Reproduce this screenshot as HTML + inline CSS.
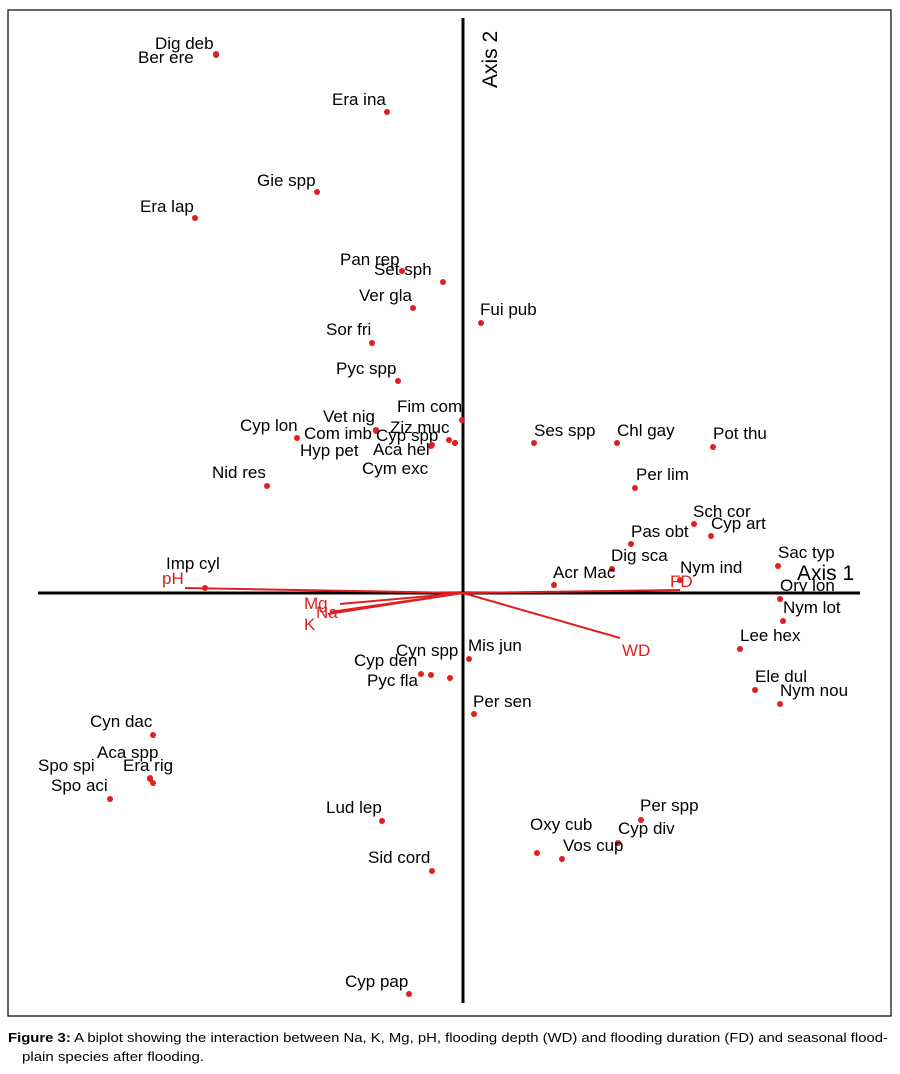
<!DOCTYPE html>
<html><head><meta charset="utf-8"><style>
html,body{margin:0;padding:0;background:#fff;width:900px;height:1074px;overflow:hidden}
svg{display:block;font-family:"Liberation Sans",Arial,sans-serif}
</style></head><body>
<svg id="chart" width="900" height="1074" viewBox="0 0 900 1074">
<rect x="8" y="10" width="883" height="1006" fill="none" stroke="#000" stroke-width="1.2"/>
<line x1="38" y1="593" x2="860" y2="593" stroke="#000" stroke-width="3"/>
<line x1="463" y1="18" x2="463" y2="1003" stroke="#000" stroke-width="3"/>
<text x="797" y="580" font-size="21">Axis 1</text>
<text transform="translate(497,88) rotate(-90)" font-size="21">Axis 2</text>
<g id="vectors"></g>
<g id="species"></g>
<text x="8" y="1042" font-size="13" textLength="880" lengthAdjust="spacingAndGlyphs"><tspan font-weight="bold">Figure 3:</tspan> A biplot showing the interaction between Na, K, Mg, pH, flooding depth (WD) and flooding duration (FD) and seasonal flood-</text>
<text x="22" y="1061" font-size="13" textLength="182" lengthAdjust="spacingAndGlyphs">plain species after flooding.</text>
</svg>
<script>
const speciesNames=["Dig deb","Ber ere","Era ina","Gie spp","Era lap","Pan rep","Set sph","Ver gla","Fui pub","Sor fri","Pyc spp","Fim com","Vet nig","Cyp lon","Com imb","Ziz muc","Cyp spp","Hyp  pet","Aca hel","Cym exc","Nid res","Ses spp","Chl gay","Pot thu","Per lim","Sch cor","Cyp art","Pas obt","Dig sca","Nym ind","Acr Mac","Sac typ","Ory lon","Nym lot","Lee hex","Ele dul","Nym nou","Imp cyl","Mis jun","Cyn spp","Cyp  den","Pyc fla","Per sen","Cyn dac","Aca spp","Era rig","Spo spi","Spo aci","Lud lep","Per spp","Oxy cub","Cyp div","Vos cup","Sid cord","Cyp pap"];
const speciesAxis1=[-2.47,-2.47,-0.76,-1.46,-2.68,-0.61,-0.20,-0.50,0.18,-0.91,-0.65,-0.01,-0.87,-1.66,-0.87,-0.14,-0.08,-0.31,-0.32,-0.08,-1.96,0.71,1.54,2.50,1.72,2.31,2.48,1.68,1.49,2.17,0.91,3.15,3.17,3.20,2.77,2.92,3.17,-2.58,0.06,-0.13,-0.42,-0.32,0.11,-3.10,-3.13,-3.10,-3.13,-3.53,-0.81,1.78,0.74,1.55,0.99,-0.31,-0.54];
const speciesAxis2=[5.39,5.38,4.81,4.01,3.75,3.22,3.11,2.85,2.70,2.50,2.12,1.73,1.63,1.55,1.62,1.53,1.50,1.48,1.47,1.50,1.07,1.50,1.50,1.46,1.05,0.69,0.57,0.49,0.24,0.13,0.08,0.27,-0.06,-0.28,-0.56,-0.97,-1.11,0.05,-0.66,-0.85,-0.81,-0.82,-1.21,-1.42,-1.85,-1.90,-1.86,-2.06,-2.28,-2.27,-2.60,-2.50,-2.66,-2.78,-4.01];
const labelDx=[-61,-78,-55,-60,-55,-62,-69,-54,-1,-46,-62,-65,-53,-57,-72,-59,-79,-132,-58,-93,-55,0,0,0,1,-1,0,0,-1,0,-1,0,0,0,0,0,0,-39,-1,-54,-67,-64,-1,-63,-53,-30,-112,-59,-56,-1,-7,0,1,-64,-64];
const labelDy=[-5,8,-7,-6,-6,-6,-7,-7,-8,-8,-7,-8,-8,-7,8,-7,-2,11,9,31,-8,-7,-7,-8,-8,-7,-7,-7,-8,-7,-7,-8,-8,-8,-8,-8,-8,-19,-8,-22,-8,11,-7,-8,-20,-12,-8,-8,-8,-9,-23,-9,-8,-8,-7];
const vectorNames=["pH","Mg","Na","K","WD","FD"];
const vectorAxis1=[-2.78,-1.23,-1.33,-1.35,1.57,2.17];
const vectorAxis2=[0.05,-0.11,-0.19,-0.21,-0.45,0.03];
const vecDx=[-23,-36,-14,-24,2,-10];
const vecDy=[-4,5,6,16,18,-3];

const ox=463, oy=593, scale=100;
function sx(v){return ox+v*scale;}
function sy(v){return oy-v*scale;}
const NS="http://www.w3.org/2000/svg";
const vg=document.getElementById('vectors');
vectorNames.forEach((n,i)=>{
  const l=document.createElementNS(NS,'line');
  l.setAttribute('x1',ox);l.setAttribute('y1',oy);
  l.setAttribute('x2',sx(vectorAxis1[i]));l.setAttribute('y2',sy(vectorAxis2[i]));
  l.setAttribute('stroke','#e02020');l.setAttribute('stroke-width','2');
  
  
  vg.appendChild(l);
  const t=document.createElementNS(NS,'text');
  t.setAttribute('x',sx(vectorAxis1[i])+vecDx[i]);t.setAttribute('y',sy(vectorAxis2[i])+vecDy[i]);
  t.setAttribute('fill','#e02020');t.setAttribute('font-size','17');
  t.textContent=n;
  
  
  vg.appendChild(t);
});
const sg=document.getElementById('species');
speciesNames.forEach((n,i)=>{
  const x=sx(speciesAxis1[i]), y=sy(speciesAxis2[i]);
  const c=document.createElementNS(NS,'circle');
  c.setAttribute('cx',x);c.setAttribute('cy',y);c.setAttribute('r','3');
  c.setAttribute('fill','#e02020');
  
  
  sg.appendChild(c);
  const t=document.createElementNS(NS,'text');
  t.setAttribute('x',x+labelDx[i]);t.setAttribute('y',y+labelDy[i]);
  t.setAttribute('font-size','17');t.setAttribute('fill','#000');
  t.setAttribute('xml:space','preserve');
  t.textContent=n;
  
  
  sg.appendChild(t);
});
</script>
</body></html>
